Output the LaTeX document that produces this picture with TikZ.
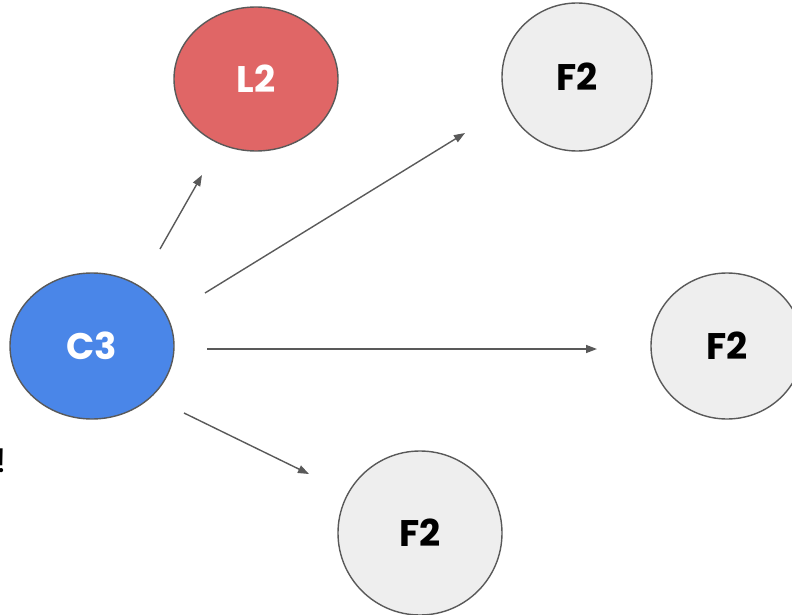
\documentclass[tikz,border=0pt]{standalone}
\usepackage{fontspec}
\setmainfont{Poppins}[BoldFont={* Bold}]
\usetikzlibrary{shapes.geometric,arrows.meta}
\definecolor{lred}{HTML}{E06666}
\definecolor{lblue}{HTML}{4A86E8}
\definecolor{lgray}{HTML}{EEEEEE}
\definecolor{edge}{HTML}{595959}
\tikzset{
  blob/.style={ellipse, draw=edge, line width=1.4pt, inner sep=0pt, font=\fontsize{37}{42}\selectfont\bfseries},
  conn/.style={draw=edge, line width=1.4pt, -{Triangle[length=11pt,width=8pt]}},
}
\begin{document}
\begin{tikzpicture}[x=1pt,y=-1pt]
\useasboundingbox (0,0) rectangle (792,615);
\node[blob, fill=lred, text=white, minimum width=164, minimum height=144] (L2) at (256,79) {L2};
\node[blob, fill=lgray, minimum width=150, minimum height=148] (F2a) at (577,77) {F2};
\node[blob, fill=lgray, minimum width=152, minimum height=146] (F2b) at (727,346) {F2};
\node[blob, fill=lblue, text=white, minimum width=164, minimum height=146] (C3) at (92,346) {C3};
\node[blob, fill=lgray, minimum width=164, minimum height=164] (F2c) at (420,533) {F2};
\node[font=\fontsize{34}{40}\selectfont, anchor=base east, inner sep=0pt] (ex) at (7,472) {!};
\coordinate (s1) at (160,249); \coordinate (e1) at (202,175);
\coordinate (s2) at (205,293); \coordinate (e2) at (465,133);
\coordinate (s3) at (207,349); \coordinate (e3) at (597,349);
\coordinate (s4) at (184,413); \coordinate (e4) at (309,474);
\draw[conn] (s1) -- (e1);
\draw[conn] (s2) -- (e2);
\draw[conn] (s3) -- (e3);
\draw[conn] (s4) -- (e4);
\end{tikzpicture}
\end{document}
